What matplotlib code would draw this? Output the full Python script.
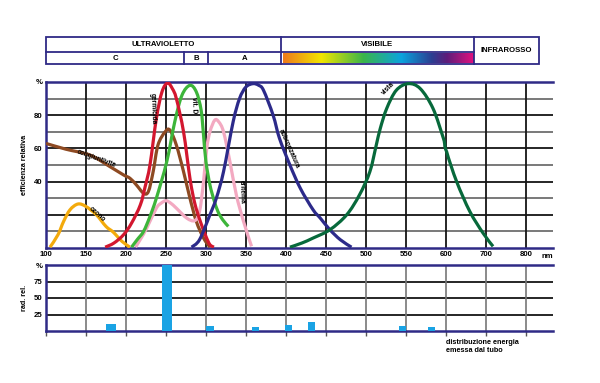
import numpy as np
import matplotlib
matplotlib.use("Agg")
import matplotlib.pyplot as plt
from matplotlib.colors import LinearSegmentedColormap
from matplotlib.patches import Rectangle, PathPatch
from matplotlib.path import Path

plt.rcParams['font.family'] = ['Liberation Sans', 'DejaVu Sans']

# ---------------- data ----------------
xticks = [100, 150, 200, 250, 300, 350, 400, 450, 500, 550, 600, 700, 800]

ozono_nm = [105, 115, 122, 130, 140, 150, 163, 175, 184, 195, 205]
ozono_v = [0.5, 8, 16, 23, 26.5, 25, 20, 13, 9.6, 4, 0.5]

cong_nm = [100, 125, 155, 180, 197, 205, 213, 222, 228, 234, 240, 249, 255, 263, 272, 280, 288, 297, 305]
cong_v = [63, 59.5, 56, 49, 44, 42, 38, 33, 34, 46, 62, 70, 71, 62, 46, 30, 16, 6, 0.5]

germ_nm = [174, 185, 197, 207, 218, 224, 230, 238, 245, 252, 258, 263, 272, 280, 286, 293, 300, 305, 310]
germ_v = [0.5, 3, 8, 15, 26, 37, 50, 78, 94, 99.4, 96, 90, 70, 42, 27, 16, 7, 2, 0.5]

vitd_nm = [207, 214, 222, 230, 238, 251, 261, 270, 280, 288, 294, 297, 300, 305, 310, 315, 321, 328]
vitd_v = [0.5, 5, 10, 19, 30, 52, 76, 92, 98, 94, 83, 68, 52, 38, 29, 22, 17, 13]

erit_nm = [212, 219, 226, 238, 244, 250, 256, 263, 276, 286, 292, 297, 301, 305, 311, 316, 322, 330, 338, 347, 357]
erit_v = [0.5, 6, 12, 24, 27, 28.5, 27, 24, 18, 16.5, 22, 40, 60, 70, 77, 76, 70, 52, 32, 16, 1]

abbr_nm = [282, 292, 305, 313, 322, 334, 342, 350, 359, 366, 372, 384, 392, 405, 418, 434, 443, 455, 468, 482]
abbr_v = [0.5, 5, 20, 30, 46, 76, 90, 97, 99, 98, 95, 80, 66, 50, 36, 23, 18, 11, 5, 0.5]

vista_nm = [405, 420, 434, 455, 476, 492, 505, 513, 518, 526, 538, 553, 568, 584, 597, 602, 627, 660, 693, 718]
vista_v = [0.5, 3, 6, 11, 20, 32, 46, 62, 72, 84, 95, 99, 96, 84, 66, 58, 40, 22, 9, 1]

bar_nm = [181, 251, 305, 362, 403, 432, 546, 582]
bar_v = [11, 100, 8, 6, 9, 14, 8, 6]
bar_w = [12, 12, 9, 9, 9, 9, 9, 9]

header_top = ['ULTRAVIOLETTO', 'VISIBILE', 'INFRAROSSO']
header_bot = ['C', 'B', 'A']

# ---------------- styling ----------------
BLUE = '#2f2a86'
c_oz = '#f3aa0c'
c_cong = '#8e4a22'
c_germ = '#d3172f'
c_vitd = '#3db53a'
c_erit = '#f3a9c1'
c_abbr = '#2c2a8a'
c_vista = '#07693b'
c_bar = '#1aa3e4'


def fwd(x):
    x = np.asarray(x, dtype=float)
    return np.where(x <= 600, (x - 100) / 50.0, 10 + (x - 600) / 100.0)


def inv(u):
    u = np.asarray(u, dtype=float)
    return np.where(u <= 10, 100 + 50 * u, 600 + 100 * (u - 10))


def smooth_path(xs, ys):
    """Catmull-Rom curve through the read points, as cubic Bezier segments."""
    P = np.column_stack([xs, ys]).astype(float)
    n = len(P)
    verts = [P[0]]
    codes = [Path.MOVETO]
    for i in range(n - 1):
        p0 = P[i - 1] if i > 0 else P[i]
        p1 = P[i]
        p2 = P[i + 1]
        p3 = P[i + 2] if i + 2 < n else P[i + 1]
        verts += [p1 + (p2 - p0) / 6.0, p2 - (p3 - p1) / 6.0, p2]
        codes += [Path.CURVE4] * 3
    return Path(np.array(verts), codes)


W, H = 600, 383
fig = plt.figure(figsize=(6, 3.83), dpi=100)


def fax(l, t, r, b):
    return fig.add_axes([l / W, 1 - b / H, (r - l) / W, (b - t) / H])


XMAX = float(inv(12.68))
FS = 5.6
bold = dict(fontweight='bold')

# ---------------- header ----------------
hx = fax(46, 37, 539, 64)
hx.set_xlim(0, 493)
hx.set_ylim(0, 27)
hx.axis('off')
lw = 1.3
hx.add_patch(Rectangle((0, 0), 493, 27, fill=False, ec=BLUE, lw=lw, clip_on=False))
hx.plot([0, 428], [12, 12], color=BLUE, lw=lw, clip_on=False)
for xv in (235, 428):
    hx.plot([xv, xv], [0, 27], color=BLUE, lw=lw, clip_on=False)
for xv in (138, 162):
    hx.plot([xv, xv], [0, 12], color=BLUE, lw=lw, clip_on=False)
cmap = LinearSegmentedColormap.from_list('spec', [
    (0.0, '#ee7a1c'), (0.2, '#f2e500'), (0.42, '#3bb54a'),
    (0.62, '#0aa3de'), (0.78, '#2b3f92'), (0.86, '#5e1c7a'), (1.0, '#e1127f')])
grad = np.linspace(0, 1, 256).reshape(1, -1)
hx.imshow(grad, cmap=cmap, aspect='auto', extent=(236.5, 427.5, 1.2, 11.0), zorder=0)
hx.text(117.5, 19.5, header_top[0], ha='center', va='center', fontsize=FS, **bold)
hx.text(331.5, 19.5, header_top[1], ha='center', va='center', fontsize=FS, **bold)
hx.text(460.5, 13.5, header_top[2], ha='center', va='center', fontsize=FS, **bold)
hx.text(69, 6, header_bot[0], ha='center', va='center', fontsize=FS, **bold)
hx.text(150, 6, header_bot[1], ha='center', va='center', fontsize=FS, **bold)
hx.text(198.5, 6, header_bot[2], ha='center', va='center', fontsize=FS, **bold)

# ---------------- main panel ----------------
ax = fax(46, 82, 553, 248)
ax.set_xscale('function', functions=(fwd, inv))
ax.set_xlim(100, XMAX)
ax.set_ylim(0, 100)
ax.set_xticks(xticks)
ax.set_xticklabels([str(t) for t in xticks], fontsize=FS, **bold)
ax.set_yticks([40, 60, 80, 100])
ax.set_yticklabels(['40', '60', '80', '%'], fontsize=FS, **bold)
ax.tick_params(axis='both', length=0, pad=2.5)
for yv in range(10, 100, 10):
    ax.axhline(yv, color='#151515' if yv % 20 == 0 else '#6e6e6e', lw=1.3, zorder=1)
for xv in xticks[1:]:
    ax.axvline(xv, color='#151515', lw=1.3, zorder=1)
ax.spines['right'].set_visible(False)
for s in ('top', 'bottom', 'left'):
    ax.spines[s].set_color(BLUE)
    ax.spines[s].set_linewidth(1.8)
fig.text(541 / W, 1 - 257 / H, 'nm', fontsize=FS, ha='left', va='center', **bold)

lwc = 2.3
for xs, ys, c in [(ozono_nm, ozono_v, c_oz), (cong_nm, cong_v, c_cong),
                  (erit_nm, erit_v, c_erit), (vitd_nm, vitd_v, c_vitd),
                  (germ_nm, germ_v, c_germ), (abbr_nm, abbr_v, c_abbr),
                  (vista_nm, vista_v, c_vista)]:
    ax.add_patch(PathPatch(smooth_path(xs, ys), fill=False, ec=c, lw=lwc,
                           capstyle='butt', joinstyle='round', zorder=3))

lab = dict(fontsize=4.8, fontweight='bold', ha='center', va='center', zorder=4)
ax.text(163, 54, 'congiuntivite', rotation=-20, **lab)
ax.text(164, 20.5, 'ozono', rotation=-42, **lab)
ax.text(233, 84, 'germicida', rotation=-88, **lab)
ax.text(285, 86, 'vit. D', rotation=-88, **lab)
ax.text(345, 34, 'eritema', rotation=-88, **lab)
ax.text(403, 60, 'abbronzatura', rotation=-66, **lab)
ax.text(528, 96, 'vista', rotation=45, **lab)

ax.set_ylabel('efficienza relativa', fontsize=5.2, fontweight='bold', labelpad=4)

# ---------------- bottom panel ----------------
bx = fax(46, 265, 553, 331)
bx.set_xscale('function', functions=(fwd, inv))
bx.set_xlim(100, XMAX)
bx.set_ylim(0, 100)
bx.set_xticks(xticks)
bx.set_xticklabels([])
bx.tick_params(axis='x', length=3.5, width=1.0, color='#555555', direction='out')
bx.set_yticks([25, 50, 75, 100])
bx.set_yticklabels(['25', '50', '75', '%'], fontsize=FS, **bold)
bx.tick_params(axis='y', length=0, pad=2.5)
for yv in (25, 50, 75):
    bx.axhline(yv, color='#151515', lw=1.3, zorder=1)
for xv in xticks[1:]:
    bx.axvline(xv, color='#777777', lw=1.2, zorder=1)
bx.spines['right'].set_visible(False)
for s in ('top', 'bottom', 'left'):
    bx.spines[s].set_color(BLUE)
    bx.spines[s].set_linewidth(1.8)
bx.bar(bar_nm, bar_v, width=bar_w, color=c_bar, zorder=3)
bx.set_ylabel('rad. rel.', fontsize=5.2, fontweight='bold', labelpad=4)
bx.text(600, -12, 'distribuzione energia\nemessa dal tubo', fontsize=5.2, fontweight='bold',
        ha='left', va='top', linespacing=1.3, clip_on=False)

fig.savefig('out.png', dpi=100, facecolor='white')
